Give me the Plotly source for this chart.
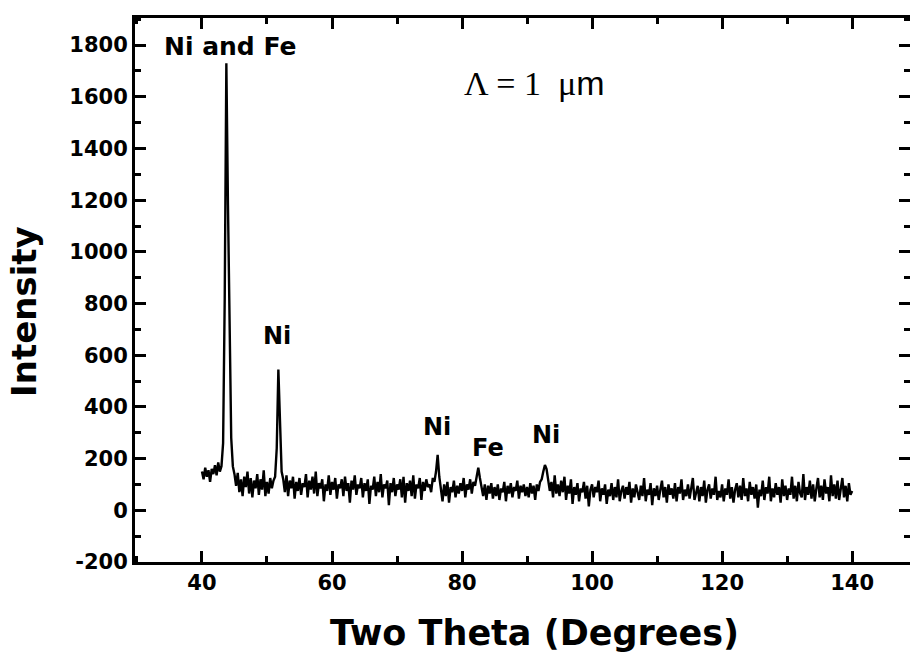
import plotly.graph_objects as go

# XRD scan: 2-theta start / step and intensities
two_theta_start = 40.0
two_theta_step = 0.25
intensity = [
    # 40.00 - 44.75
    150, 120, 165, 130, 155, 110, 160, 140, 175, 135, 185, 150, 170, 260, 820, 1730, 1180, 600, 280, 170,
    # 45.00 - 49.75
    140, 95, 145, 70, 120, 55, 130, 90, 150, 65, 125, 50, 115, 85, 140, 60, 120, 80, 155, 55,
    # 50.00 - 54.75
    110, 65, 125, 85, 115, 130, 240, 545, 300, 150, 120, 70, 135, 55, 115, 85, 130, 45, 110, 75,
    # 55.00 - 59.75
    125, 60, 105, 90, 140, 50, 115, 80, 130, 65, 150, 55, 105, 85, 120, 35, 100, 75, 135, 60,
    # 60.00 - 64.75
    110, 80, 125, 45, 100, 85, 120, 55, 130, 75, 105, 30, 115, 80, 135, 60, 100, 85, 125, 50,
    # 65.00 - 69.75
    105, 75, 120, 25, 95, 80, 130, 55, 110, 70, 140, 50, 100, 85, 115, 20, 105, 70, 125, 55,
    # 70.00 - 74.75
    100, 80, 120, 50, 130, 30, 105, 75, 115, 55, 135, 45, 100, 85, 125, 40, 110, 75, 120, 90,
    # 75.00 - 79.75
    100, 70, 125, 110, 150, 215, 130, 75, 35, 100, 55, 110, 30, 90, 70, 115, 50, 95, 65, 105,
    # 80.00 - 84.75
    75, 125, 50, 100, 80, 120, 65, 110, 95, 130, 165, 125, 85, 55, 100, 40, 95, 65, 105, 45,
    # 85.00 - 89.75
    90, 55, 100, 40, 85, 70, 110, 35, 95, 65, 105, 50, 90, 75, 115, 45, 95, 70, 100, 55,
    # 90.00 - 94.75
    90, 50, 105, 65, 95, 40, 100, 75, 110, 120, 150, 175, 160, 120, 75, 110, 50, 135, 65, 100,
    # 95.00 - 99.75
    55, 115, 70, 130, 40, 95, 65, 120, 25, 90, 60, 105, 35, 85, 70, 110, 45, 95, 15, 80,
    # 100.00 - 104.75
    100, 50, 90, 70, 115, 35, 85, 60, 100, 25, 80, 55, 105, 40, 90, 50, 120, 35, 75, 95,
    # 105.00 - 109.75
    45, 90, 60, 110, 30, 85, 50, 100, 70, 40, 95, 55, 125, 35, 80, 60, 105, 20, 85, 55,
    # 110.00 - 114.75
    95, 40, 80, 115, 50, 90, 30, 100, 60, 85, 45, 105, 35, 90, 65, 120, 40, 80, 55, 100,
    # 115.00 - 119.75
    45, 85, 125, 40, 75, 95, 35, 90, 55, 115, 30, 80, 100, 45, 85, 60, 130, 40, 75, 50,
    # 120.00 - 124.75
    100, 35, 85, 60, 120, 45, 90, 30, 80, 105, 50, 95, 40, 125, 55, 85, 35, 110, 60, 90,
    # 125.00 - 129.75
    45, 100, 10, 80, 55, 115, 40, 90, 65, 130, 35, 85, 50, 105, 60, 90, 30, 120, 55, 95,
    # 130.00 - 134.75
    40, 85, 60, 130, 45, 95, 35, 110, 65, 50, 140, 40, 90, 60, 115, 45, 100, 35, 85, 125,
    # 135.00 - 139.75
    50, 95, 40, 120, 65, 90, 35, 135, 55, 100, 45, 115, 40, 85, 125, 50, 95, 35, 105, 60,
    # 140.00
    75,
]
two_theta = [two_theta_start + i * two_theta_step for i in range(len(intensity))]

# Peak labels
peak_labels = ["Ni and Fe", "Ni", "Ni", "Fe", "Ni"]
peak_label_x = [44.3, 51.5, 76.2, 84.0, 92.9]
peak_label_y = [1796, 673, 323, 242, 292]

x_ticks = [40, 60, 80, 100, 120, 140]
y_ticks = [-200, 0, 200, 400, 600, 800, 1000, 1200, 1400, 1600, 1800]

FONT = "DejaVu Sans"

fig = go.Figure()
fig.add_trace(go.Scatter(
    x=two_theta, y=intensity, mode="lines",
    line=dict(color="black", width=2.4),
    showlegend=False, hoverinfo="skip",
))

annotations = []
for t, x, y in zip(peak_labels, peak_label_x, peak_label_y):
    annotations.append(dict(
        x=x, y=y, xref="x", yref="y", text=f"<b>{t}</b>", showarrow=False,
        font=dict(family=FONT, size=25 if t == "Ni and Fe" else 24, color="black"),
        xanchor="center", yanchor="middle",
    ))

annotations.append(dict(
    x=91.1, y=1654, xref="x", yref="y", showarrow=False,
    text="Λ = 1  μ<span style='font-family:Liberation Sans'>m</span>",
    font=dict(family="Liberation Serif", size=34, color="black"),
    xanchor="center", yanchor="middle",
))
annotations.append(dict(
    x=0.515, y=-0.1305, xref="paper", yref="paper", showarrow=False,
    text="<b>Two Theta (Degrees)</b>",
    font=dict(family=FONT, size=35, color="black"),
    xanchor="center", yanchor="middle",
))
annotations.append(dict(
    x=-0.143, y=0.46, xref="paper", yref="paper", showarrow=False,
    text="<b>Intensity</b>", textangle=-90,
    font=dict(family=FONT, size=34, color="black"),
    xanchor="center", yanchor="middle",
))

fig.update_layout(
    width=910, height=657,
    margin=dict(l=135, r=0, t=18, b=95, autoexpand=False),
    paper_bgcolor="white", plot_bgcolor="white",
    annotations=annotations,
    xaxis=dict(
        range=[29.7, 148.9], tickvals=x_ticks, ticktext=[f"<b>{v}</b>" for v in x_ticks],
        ticks="inside", ticklen=11, tickwidth=3, tickcolor="black",
        showline=True, linecolor="black", linewidth=3, mirror="allticks",
        showgrid=False, zeroline=False, automargin=False,
        tickfont=dict(family=FONT, size=21, color="black"),
        minor=dict(ticks="inside", ticklen=6, tickwidth=3, tickcolor="black", dtick=10, tick0=0),
    ),
    yaxis=dict(
        range=[-200, 1905], tickvals=y_ticks, ticktext=[f"<b>{v}</b>" for v in y_ticks],
        ticks="inside", ticklen=11, tickwidth=3, tickcolor="black",
        showline=True, linecolor="black", linewidth=3, mirror="allticks",
        showgrid=False, zeroline=False, automargin=False,
        tickfont=dict(family=FONT, size=21, color="black"),
        minor=dict(ticks="inside", ticklen=6, tickwidth=3, tickcolor="black", dtick=100, tick0=0),
    ),
)

fig.write_html(
    "out.html",
    config={"displayModeBar": False},
    post_script="document.body.style.margin='0';document.body.style.overflow='hidden';",
)
